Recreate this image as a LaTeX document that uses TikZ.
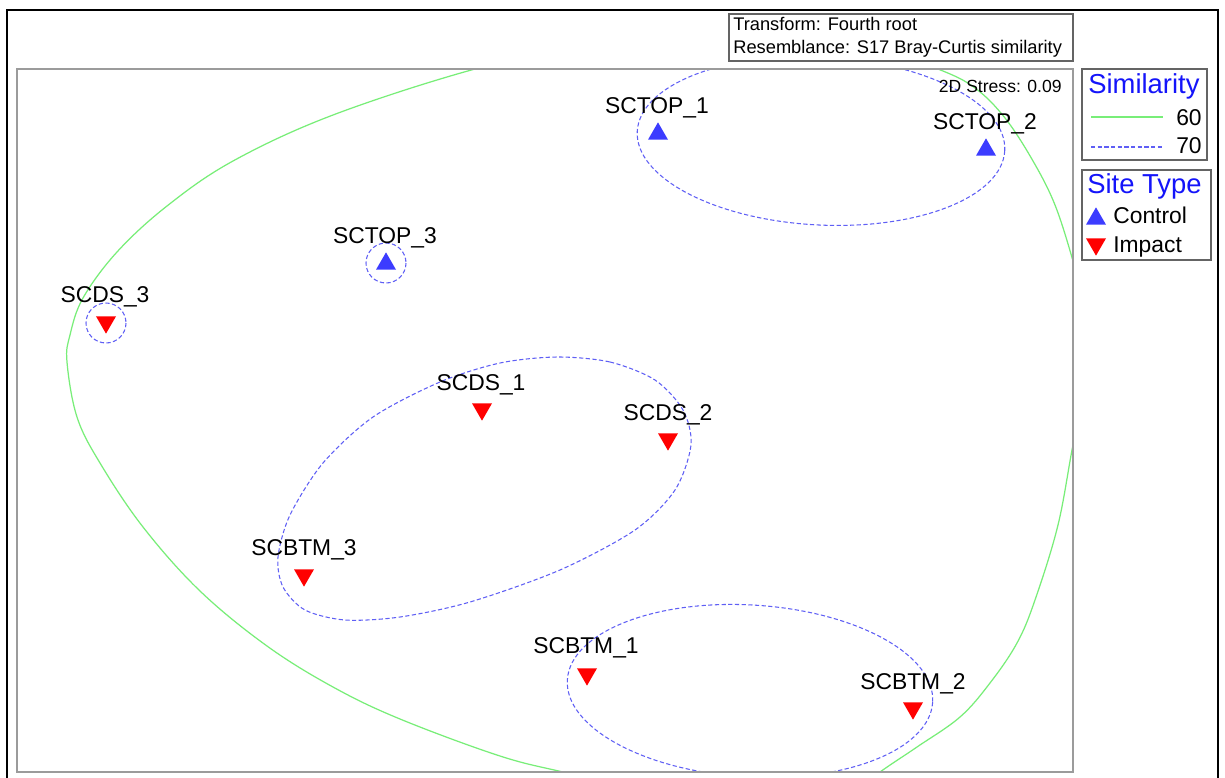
\documentclass[tikz,border=0pt]{standalone}
\usepackage{fontspec}
\setmainfont{Liberation Sans}
\usetikzlibrary{shapes.geometric}
\definecolor{cgreen}{RGB}{120,238,120}
\definecolor{cblue}{RGB}{95,95,245}
\definecolor{tblue}{RGB}{60,60,255}
\definecolor{tred}{RGB}{255,0,0}
\definecolor{lblue}{RGB}{20,20,250}
\definecolor{fgray}{RGB}{155,155,155}
\definecolor{bgray}{RGB}{100,100,100}
\begin{document}
\begin{tikzpicture}[x=0.02cm,y=-0.02cm,
  uptri/.style={regular polygon, regular polygon sides=3, minimum size=0.462cm, inner sep=0pt, outer sep=0pt, fill=tblue, yshift=-0.058cm},
  downtri/.style={regular polygon, regular polygon sides=3, minimum size=0.462cm, inner sep=0pt, outer sep=0pt, fill=tred, shape border rotate=180, yshift=0.058cm},
  lbl/.style={anchor=base, inner sep=0pt, font=\fontsize{13}{15}\selectfont},
  legtxt/.style={inner sep=0pt, font=\fontsize{13}{15}\selectfont},
  legtitle/.style={anchor=base west, inner sep=0pt, text=lblue, font=\fontsize{15.6}{18}\selectfont},
  small/.style={inner sep=0pt, font=\fontsize{10.4}{12}\selectfont},
  sim60/.style={draw=cgreen, line width=0.7pt},
  sim70/.style={draw=cblue, line width=0.6pt, dash pattern=on 2.4pt off 1.4pt},
  boxframe/.style={draw=bgray, line width=0.8pt}]
\useasboundingbox (0,0) rectangle (1225,778);
\fill[white] (0,0) rectangle (1225,778);
% outer frame
\draw[black, line width=1.2pt] (7,10) rectangle (1218,790);
% title box
\draw[boxframe] (729,14) rectangle (1073,61);
\node[small, anchor=base west] (t1) at (733,30) {Transform: Fourth root};
\node[small, anchor=base west] (t2) at (733,53) {Resemblance: S17 Bray-Curtis similarity};
% contours
\begin{scope}
\clip (17,69) rectangle (1073,772);
\draw[sim60] plot[smooth cycle, tension=0.6] coordinates {(67,362) (77,417) (100,463) (143,527) (200,591) (267,646) (333,687) (400,719) (500,756) (567,773) (660,795) (760,812) (840,802) (880,772) (917,747) (960,717) (990,683) (1017,643) (1035,600) (1058,525) (1073,445) (1084,400) (1089,353) (1084,305) (1073,261) (1055,205) (1033,161) (1005,118) (975,88) (938,69) (860,42) (720,28) (590,45) (475,69) (333,115) (233,161) (167,206) (117,252) (83,298) (70,335)};
\draw[sim70, rotate around={-3:(821,141)}] (821,141) ellipse [x radius=184, y radius=84];
\draw[sim70] plot[smooth cycle] coordinates {(557,357) (610,362) (655,380) (683,410) (691,445) (675,490) (635,530) (560,570) (470,602) (400,617) (345,620) (305,610) (283,587) (278,557) (290,515) (323,463) (373,417) (440,382) (500,363)};
\draw[sim70, rotate around={-3.5:(750,691)}] (750,691) ellipse [x radius=183, y radius=86];
\draw[sim70] (386,263) circle[radius=20];
\draw[sim70] (106,323) circle[radius=20];
\end{scope}
% plot frame
\draw[fgray, line width=1.1pt] (17,69) rectangle (1073,772);
\node[inner sep=0pt, anchor=base east, font=\fontsize{10}{12}\selectfont] (stress) at (1062,92) {2D Stress: 0.09};
% points
\node[uptri] (p1) at (658,131) {};
\node[uptri] (p2) at (986,147) {};
\node[uptri] (p3) at (386,261) {};
\node[downtri] (p4) at (106,325) {};
\node[downtri] (p5) at (482,412) {};
\node[downtri] (p6) at (668,442) {};
\node[downtri] (p7) at (304,578) {};
\node[downtri] (p8) at (587,677) {};
\node[downtri] (p9) at (913,711) {};
\node[lbl] (l1) at (657,113) {SCTOP\_1};
\node[lbl] (l2) at (985,129) {SCTOP\_2};
\node[lbl] (l3) at (385,243) {SCTOP\_3};
\node[lbl] (l4) at (105,302) {SCDS\_3};
\node[lbl] (l5) at (481,390) {SCDS\_1};
\node[lbl] (l6) at (668,420) {SCDS\_2};
\node[lbl] (l7) at (304,555) {SCBTM\_3};
\node[lbl] (l8) at (586,653) {SCBTM\_1};
\node[lbl] (l9) at (913,689) {SCBTM\_2};
% legend: similarity
\draw[boxframe] (1082,69) rectangle (1207,160);
\node[legtitle] (simt) at (1088,93) {Similarity};
\coordinate (ga) at (1091,117);
\coordinate (gb) at (1163,117);
\draw[sim60] (ga) -- (gb);
\node[legtxt, anchor=base east] (s60) at (1202,125) {60};
\coordinate (ba) at (1091,147);
\coordinate (bb) at (1162,147);
\draw[sim70] (ba) -- (bb);
\node[legtxt, anchor=base east] (s70) at (1202,153) {70};
% legend: site type
\draw[boxframe] (1082,170) rectangle (1211,260);
\node[legtitle] (sitet) at (1087,193) {Site Type};
\node[uptri] (kc) at (1096,216) {};
\node[legtxt, anchor=base west] (ctrl) at (1113,223) {Control};
\node[downtri] (ki) at (1096,247) {};
\node[legtxt, anchor=base west] (imp) at (1113,252) {Impact};
\end{tikzpicture}
\end{document}
